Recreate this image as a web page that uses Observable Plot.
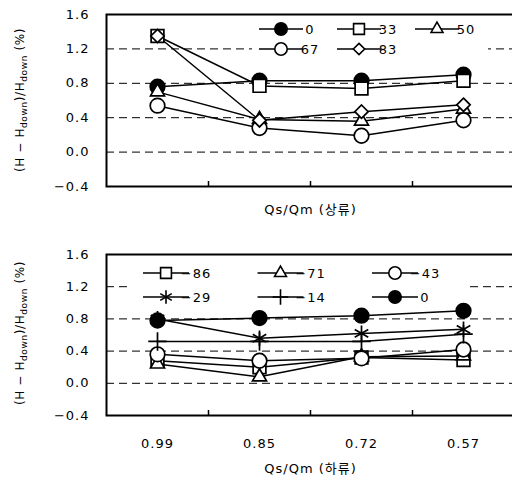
<!DOCTYPE html>
<html>
<head>
<meta charset="utf-8">
<script src="https://cdn.jsdelivr.net/npm/d3@7"></script>
<script src="https://cdn.jsdelivr.net/npm/@observablehq/plot@0.6"></script>
<style>
  body { margin: 0; background: #fff; }
  #chart svg { display: block; }
</style>
</head>
<body>
<div id="chart"></div>
<script>
// ---------- data ----------
const categories = ["0.99", "0.85", "0.72", "0.57"];
const yTicks = [-0.4, 0.0, 0.4, 0.8, 1.2, 1.6];
const gridValues = [0.0, 0.4, 0.8, 1.2];

// upstream (상류)
const upNames = ["0", "33", "50", "67", "83"];
const up_0  = [0.76, 0.83, 0.83, 0.90];
const up_33 = [1.35, 0.77, 0.74, 0.83];
const up_50 = [0.70, 0.38, 0.36, 0.50];
const up_67 = [0.54, 0.28, 0.19, 0.37];
const up_83 = [1.35, 0.37, 0.47, 0.55];

// downstream (하류)
const downNames = ["−86", "−71", "−43", "−29", "−14", "0"];
const down_m86 = [0.28, 0.20, 0.32, 0.29];
const down_m71 = [0.24, 0.08, 0.33, 0.34];
const down_m43 = [0.36, 0.28, 0.31, 0.42];
const down_m29 = [0.80, 0.56, 0.62, 0.67];
const down_m14 = [0.52, 0.52, 0.52, 0.61];
const down_0   = [0.78, 0.81, 0.84, 0.90];

const upLabel = "Qs/Qm (상류)";
const downLabel = "Qs/Qm (하류)";

// ---------- styles ----------
const upSeries = [
  {name: upNames[0], values: up_0,  symbol: "circle",   fill: "black"},
  {name: upNames[1], values: up_33, symbol: "square",   fill: "white"},
  {name: upNames[2], values: up_50, symbol: "triangle", fill: "white"},
  {name: upNames[3], values: up_67, symbol: "circle",   fill: "white"},
  {name: upNames[4], values: up_83, symbol: "diamond2", fill: "white"}
];
const downSeries = [
  {name: downNames[0], values: down_m86, symbol: "square",   fill: "white"},
  {name: downNames[1], values: down_m71, symbol: "triangle", fill: "white"},
  {name: downNames[2], values: down_m43, symbol: "circle",   fill: "white"},
  {name: downNames[3], values: down_m29, symbol: "asterisk", fill: "none"},
  {name: downNames[4], values: down_m14, symbol: "plus",     fill: "none"},
  {name: downNames[5], values: down_0,   symbol: "circle",   fill: "black"}
];

const d3Symbols = {
  circle: d3.symbolCircle, square: d3.symbolSquare, triangle: d3.symbolTriangle,
  diamond2: d3.symbolDiamond2, asterisk: d3.symbolAsterisk, plus: d3.symbolPlus
};
const symbolR = {circle: 7.3, square: 7.2, triangle: 5.2, diamond2: 6, asterisk: 7.4, plus: 6};

const FONT = "'DejaVu Sans', 'Noto Sans CJK KR', sans-serif";

function rowsOf(s) {
  return categories.map((c, i) => ({series: s.name, xi: i + 0.5, v: s.values[i]}));
}

function panel({series, height, marginTop, marginBottom, tickLabels, xLabel, labelDy}) {
  const marks = [];
  const innerH = height - marginTop - marginBottom;
  marks.push(Plot.ruleY(gridValues, {stroke: "black", strokeWidth: 1, strokeDasharray: "8,5"}));
  for (const s of series) {
    marks.push(Plot.line(rowsOf(s), {x: "xi", y: "v", stroke: "black", strokeWidth: 1.5}));
  }
  for (const s of series) {
    marks.push(Plot.dot(rowsOf(s), {
      x: "xi", y: "v", symbol: () => s.symbol, r: symbolR[s.symbol],
      stroke: "black", strokeWidth: 1.7, fill: s.fill
    }));
  }
  marks.push(Plot.ruleX(d3.range(1, categories.length), {stroke: "black", strokeWidth: 1.5, insetTop: innerH - 5}));
  marks.push(Plot.frame({stroke: "black", strokeWidth: 2}));
  marks.push(Plot.axisY({
    ticks: yTicks, tickSize: 0, tickPadding: 17,
    tickFormat: d3.format(".1f"), label: null, fontSize: 13
  }));
  marks.push(Plot.axisX({
    ticks: categories.map((c, i) => i + 0.5), tickSize: 0, tickPadding: 23,
    tickFormat: tickLabels ? (d => categories[Math.floor(d)]) : (() => ""),
    label: null, fontSize: 13
  }));
  marks.push(Plot.text([xLabel], {
    text: d => d, frameAnchor: "bottom", dy: labelDy, fontSize: 13, fill: "black"
  }));
  return Plot.plot({
    width: 512, height,
    marginLeft: 106, marginRight: -2, marginTop, marginBottom,
    style: {fontFamily: FONT, fontSize: "13px", letterSpacing: "1px", color: "black", background: "white"},
    x: {type: "linear", domain: [0, categories.length]},
    y: {domain: [-0.4, 1.6]},
    symbol: {type: "identity"},
    marks
  });
}

function yTitle(svg, cy) {
  const t = d3.select(svg).append("text")
    .attr("transform", `translate(24,${cy}) rotate(-90)`)
    .attr("text-anchor", "middle")
    .attr("font-family", FONT).attr("font-size", 12).attr("letter-spacing", "0.6px")
    .attr("fill", "black");
  t.append("tspan").text("(H − H");
  t.append("tspan").attr("font-size", 9).attr("dy", 3).text("down");
  t.append("tspan").attr("dy", -3).text(")/H");
  t.append("tspan").attr("font-size", 9).attr("dy", 3).text("down");
  t.append("tspan").attr("dy", -3).text(" (%)");
}

function legend(svg, series, o) {
  const g = d3.select(svg).append("g");
  g.append("rect").attr("x", o.boxX).attr("y", o.boxY).attr("width", o.boxW).attr("height", o.boxH).attr("fill", "white");
  series.forEach((s, k) => {
    const x = o.x0 + (k % o.perRow) * o.colStep;
    const y = o.y0 + Math.floor(k / o.perRow) * o.rowStep;
    const rr = symbolR[s.symbol] * 0.85;
    g.append("line").attr("x1", x).attr("x2", x + o.lineLen).attr("y1", y).attr("y2", y)
      .attr("stroke", "black").attr("stroke-width", 1.5);
    g.append("path").attr("d", d3.symbol(d3Symbols[s.symbol], Math.PI * rr * rr)())
      .attr("transform", `translate(${x + o.lineLen / 2},${y})`)
      .attr("fill", s.fill).attr("stroke", "black").attr("stroke-width", 1.6);
    g.append("text").attr("x", x + o.textOff).attr("y", y).attr("dy", "0.36em")
      .attr("font-family", FONT).attr("font-size", 13).attr("letter-spacing", "1px")
      .attr("fill", "black").text(s.name);
  });
}

const topChart = panel({series: upSeries, height: 240, marginTop: 14, marginBottom: 54, tickLabels: false, xLabel: upLabel, labelDy: 27});
yTitle(topChart, 100);
legend(topChart, upSeries, {x0: 259, colStep: 78, y0: 29, rowStep: 20, perRow: 3, lineLen: 44, textOff: 51,
  boxX: 252, boxY: 18, boxW: 236, boxH: 40});

const bottomChart = panel({series: downSeries, height: 245, marginTop: 14, marginBottom: 70, tickLabels: true, xLabel: downLabel, labelDy: 57});
yTitle(bottomChart, 93);
legend(bottomChart, downSeries, {x0: 143, colStep: 114.5, y0: 33, rowStep: 24, perRow: 3, lineLen: 46, textOff: 53,
  boxX: 128, boxY: 19, boxW: 342, boxH: 36});

document.getElementById("chart").append(topChart, bottomChart);
</script>
</body>
</html>
